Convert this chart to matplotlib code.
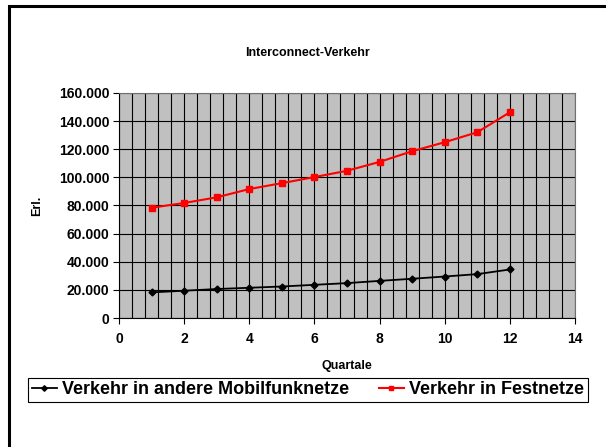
import numpy as np
import matplotlib
matplotlib.use("Agg")
import matplotlib.pyplot as plt
import matplotlib.ticker as ticker
from matplotlib.patches import Rectangle

plt.rcParams['font.family'] = ['Liberation Sans', 'DejaVu Sans']
plt.rcParams['font.weight'] = 'bold'

quartale = [1, 2, 3, 4, 5, 6, 7, 8, 9, 10, 11, 12]
mobil = [18200, 19400, 20600, 21500, 22400, 23600, 24800, 26400, 27900, 29500, 31200, 34500]
fest = [78400, 81800, 85800, 91700, 95900, 100200, 104700, 111000, 118600, 125000, 132100, 146300]

def de_fmt(v, pos):
    # Tausenderpunkt wie im Original
    return '{:,.0f}'.format(v).replace(',', '.')

fig = plt.figure(figsize=(6.06, 4.47), dpi=100)
# Rahmen um den Diagrammbereich (rechts/unten abgeschnitten)
fig.patches.append(Rectangle((8.5 / 606, -0.1), 1.2, 1 - 6.5 / 447 + 0.1,
                             transform=fig.transFigure, fill=False,
                             edgecolor='black', linewidth=2.2))

ax = fig.add_axes([119 / 606, 1 - 318 / 447, 456 / 606, 225 / 447])
ax.set_facecolor('#C0C0C0')

ax.plot(quartale, mobil, color='black', marker='D', markersize=3.5,
        linewidth=1.3, label='Verkehr in andere Mobilfunknetze', zorder=3)
ax.plot(quartale, fest, color='red', marker='s', markersize=4,
        linewidth=1.5, label='Verkehr in Festnetze', zorder=3)

ax.set_xlim(0, 14)
ax.set_ylim(0, 160000)
ax.xaxis.set_major_locator(ticker.MultipleLocator(2))
ax.xaxis.set_minor_locator(ticker.MultipleLocator(0.4))
ax.yaxis.set_major_locator(ticker.MultipleLocator(20000))
ax.yaxis.set_major_formatter(ticker.FuncFormatter(de_fmt))
ax.grid(which='both', axis='x', color='black', linewidth=0.8)
ax.grid(which='major', axis='y', color='black', linewidth=0.8)
ax.set_axisbelow(True)
ax.tick_params(which='minor', length=0)
ax.tick_params(which='major', length=4, width=0.8, labelsize=10, pad=3)
ax.tick_params(axis='x', pad=6)

for side in ['top', 'right']:
    ax.spines[side].set_color('#707070')
ax.spines['left'].set_color('black')
ax.spines['bottom'].set_color('black')

ax.set_xlabel('Quartale', fontsize=9, fontweight='bold', labelpad=10)
ax.set_ylabel('Erl.', fontsize=9, fontweight='bold', labelpad=11)
fig.text(307 / 606, 1 - 53 / 447, 'Interconnect-Verkehr', ha='center', va='center',
         fontsize=9, fontweight='bold')

leg = fig.legend(loc='center', bbox_to_anchor=(308 / 606, 1 - 390 / 447), ncol=2,
                 fontsize=13, frameon=True, fancybox=False, edgecolor='black',
                 framealpha=1, handlelength=1.4, columnspacing=1.6,
                 handletextpad=0.3, borderpad=0.2, markerscale=0.8)
leg.get_frame().set_linewidth(0.8)

plt.savefig('out.png', dpi=100)
